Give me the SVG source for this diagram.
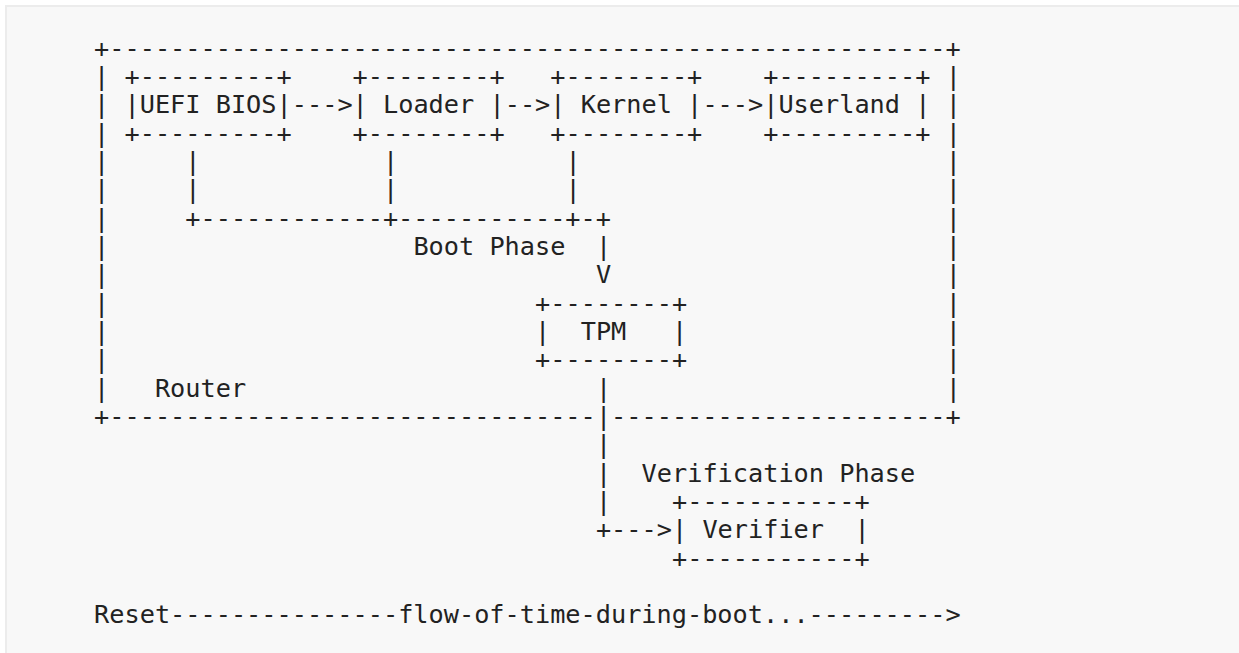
<svg xmlns="http://www.w3.org/2000/svg" width="1239" height="653" viewBox="0 0 1239 653" xml:space="preserve">
<style>
.t{font-family:"DejaVu Sans Mono","Liberation Mono",monospace;font-size:25.26px;fill:#222;white-space:pre}
</style>
<rect x="0" y="0" width="1239" height="653" fill="#ffffff"/>
<rect x="6" y="6" width="1240" height="660" fill="#f8f8f8" stroke="#ececec" stroke-width="2"/>
<g id="router">
<text class="t" x="94.1" y="56.7">+-------------------------------------------------------+</text>
<text class="t" x="94.1" y="85.0">|</text><text class="t" x="945.7" y="85.0">|</text>
<text class="t" x="94.1" y="113.4">|</text><text class="t" x="945.7" y="113.4">|</text>
<text class="t" x="94.1" y="141.7">|</text><text class="t" x="945.7" y="141.7">|</text>
<text class="t" x="94.1" y="170.0">|</text><text class="t" x="945.7" y="170.0">|</text>
<text class="t" x="94.1" y="198.4">|</text><text class="t" x="945.7" y="198.4">|</text>
<text class="t" x="94.1" y="226.7">|</text><text class="t" x="945.7" y="226.7">|</text>
<text class="t" x="94.1" y="255.0">|</text><text class="t" x="945.7" y="255.0">|</text>
<text class="t" x="94.1" y="283.3">|</text><text class="t" x="945.7" y="283.3">|</text>
<text class="t" x="94.1" y="311.7">|</text><text class="t" x="945.7" y="311.7">|</text>
<text class="t" x="94.1" y="340.0">|</text><text class="t" x="945.7" y="340.0">|</text>
<text class="t" x="94.1" y="368.3">|</text><text class="t" x="945.7" y="368.3">|</text>
<text class="t" x="94.1" y="396.7">|   Router</text><text class="t" x="945.7" y="396.7">|</text>
<text class="t" x="94.1" y="425.0">+--------------------------------</text>
<text class="t" x="611.1" y="425.0">----------------------+</text>
</g>
<g id="uefi-bios">
<text class="t" x="124.5" y="85.0">+---------+</text>
<text class="t" x="124.5" y="113.4">|UEFI BIOS|</text>
<text class="t" x="124.5" y="141.7">+---------+</text>
</g>
<g id="loader">
<text class="t" x="352.6" y="85.0">+--------+</text>
<text class="t" x="352.6" y="113.4">| Loader |</text>
<text class="t" x="352.6" y="141.7">+--------+</text>
</g>
<g id="kernel">
<text class="t" x="550.3" y="85.0">+--------+</text>
<text class="t" x="550.3" y="113.4">| Kernel |</text>
<text class="t" x="550.3" y="141.7">+--------+</text>
</g>
<g id="userland">
<text class="t" x="763.2" y="85.0">+---------+</text>
<text class="t" x="763.2" y="113.4">|Userland |</text>
<text class="t" x="763.2" y="141.7">+---------+</text>
</g>
<g id="tpm">
<text class="t" x="535.1" y="311.7">+--------+</text>
<text class="t" x="535.1" y="340.0">|  TPM   |</text>
<text class="t" x="535.1" y="368.3">+--------+</text>
</g>
<g id="verifier">
<text class="t" x="672.0" y="510.0">+-----------+</text>
<text class="t" x="672.0" y="538.3">| Verifier  |</text>
<text class="t" x="672.0" y="566.6">+-----------+</text>
</g>
<g id="boot-phase-label">
<text class="t" x="413.4" y="255.0">Boot Phase</text>
</g>
<g id="verification-phase-label">
<text class="t" x="641.6" y="481.7">Verification Phase</text>
</g>
<g id="timeline">
<text class="t" x="94.1" y="623.3">Reset---------------flow-of-time-during-boot...---------&gt;</text>
</g>
<g id="connectors">
<text class="t" x="291.8" y="113.4">---&gt;</text>
<text class="t" x="504.7" y="113.4">--&gt;</text>
<text class="t" x="702.4" y="113.4">---&gt;</text>
<text class="t" x="185.3" y="170.0">|</text><text class="t" x="383.0" y="170.0">|</text><text class="t" x="565.5" y="170.0">|</text>
<text class="t" x="185.3" y="198.4">|</text><text class="t" x="383.0" y="198.4">|</text><text class="t" x="565.5" y="198.4">|</text>
<text class="t" x="185.3" y="226.7">+------------+-----------+-+</text>
<text class="t" x="595.9" y="255.0">|</text>
<text class="t" x="595.9" y="283.3">V</text>
<text class="t" x="595.9" y="396.7">|</text>
<text class="t" x="595.9" y="425.0">|</text>
<text class="t" x="595.9" y="453.3">|</text>
<text class="t" x="595.9" y="481.7">|</text>
<text class="t" x="595.9" y="510.0">|</text>
<text class="t" x="595.9" y="538.3">+---&gt;</text>
</g>
</svg>
